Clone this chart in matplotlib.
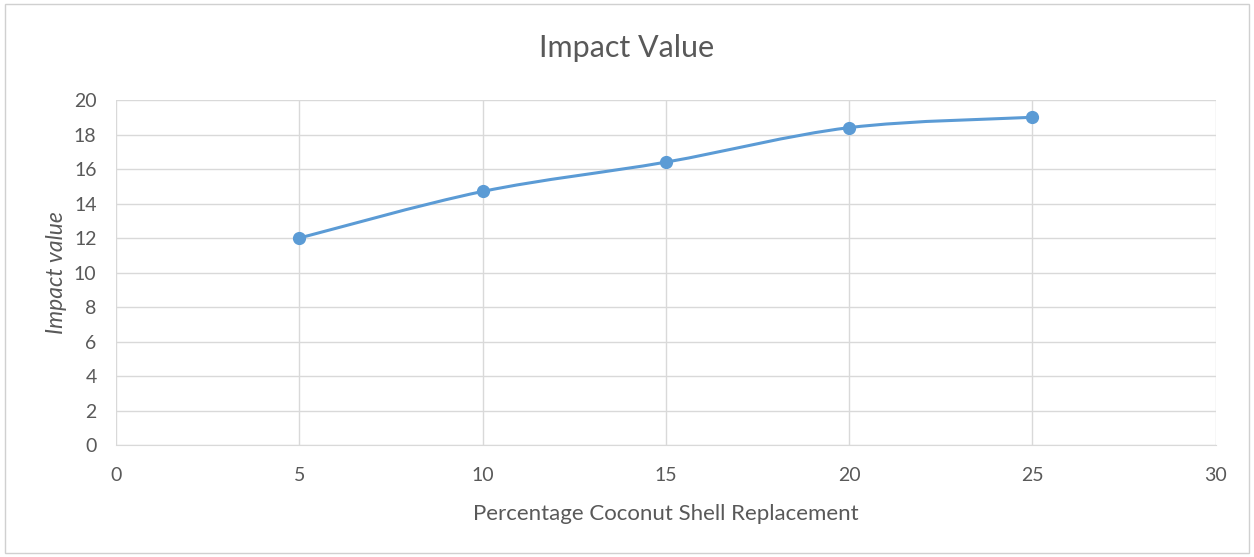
import matplotlib.pyplot as plt
from matplotlib.path import Path
from matplotlib.patches import PathPatch, Rectangle

replacement = [5, 10, 15, 20, 25]
impact = [12.0, 14.7, 16.4, 18.4, 19.0]

x_ticks = [0, 5, 10, 15, 20, 25, 30]
y_ticks = [0, 2, 4, 6, 8, 10, 12, 14, 16, 18, 20]

line_color = '#5b9bd5'
text_color = '#595959'
grid_color = '#d9d9d9'

plt.rcParams['font.family'] = ['Lato', 'DejaVu Sans']

fig = plt.figure(figsize=(12.54, 5.57), dpi=100)
fig.patches.append(Rectangle((0.004, 0.008), 0.992, 0.984, transform=fig.transFigure,
                             fill=False, edgecolor='#d0d0d0', linewidth=1))
ax = fig.add_axes([0.0925, 0.201, 0.877, 0.6194])

# smoothed line like excel (cubic bezier through points)
pts = list(zip(replacement, impact))
verts = [pts[0]]
codes = [Path.MOVETO]
for i in range(len(pts) - 1):
    p0 = pts[i - 1] if i > 0 else pts[i]
    p1 = pts[i]
    p2 = pts[i + 1]
    p3 = pts[i + 2] if i + 2 < len(pts) else pts[i + 1]
    c1 = (p1[0] + (p2[0] - p0[0]) / 6, p1[1] + (p2[1] - p0[1]) / 6)
    c2 = (p2[0] - (p3[0] - p1[0]) / 6, p2[1] - (p3[1] - p1[1]) / 6)
    verts += [c1, c2, p2]
    codes += [Path.CURVE4] * 3
ax.add_patch(PathPatch(Path(verts, codes), fill=False, edgecolor=line_color,
                       linewidth=2.2, zorder=3, capstyle='round'))
ax.plot(replacement, impact, linestyle='none', marker='o', markersize=8.5,
        color=line_color, zorder=4)

ax.set_xlim(0, 30)
ax.set_ylim(0, 20)
ax.set_xticks(x_ticks)
ax.set_yticks(y_ticks)
ax.grid(True, color=grid_color, linewidth=1)
ax.set_axisbelow(True)
for side in ['top', 'right', 'left']:
    ax.spines[side].set_visible(False)
ax.spines['bottom'].set_color(grid_color)
ax.tick_params(length=0, labelsize=14, colors=text_color)
ax.tick_params(axis='x', pad=16)
ax.tick_params(axis='y', pad=14)

fig.text(0.5, 1 - 48 / 557, 'Impact Value', fontsize=22, color=text_color,
         ha='center', va='center')
ax.set_xlabel('Percentage Coconut Shell Replacement', fontsize=16, color=text_color, labelpad=14)
ax.set_ylabel('Impact value', fontsize=16.5, color=text_color, style='italic', labelpad=5)

plt.savefig('out.png', dpi=100)
plt.close()
